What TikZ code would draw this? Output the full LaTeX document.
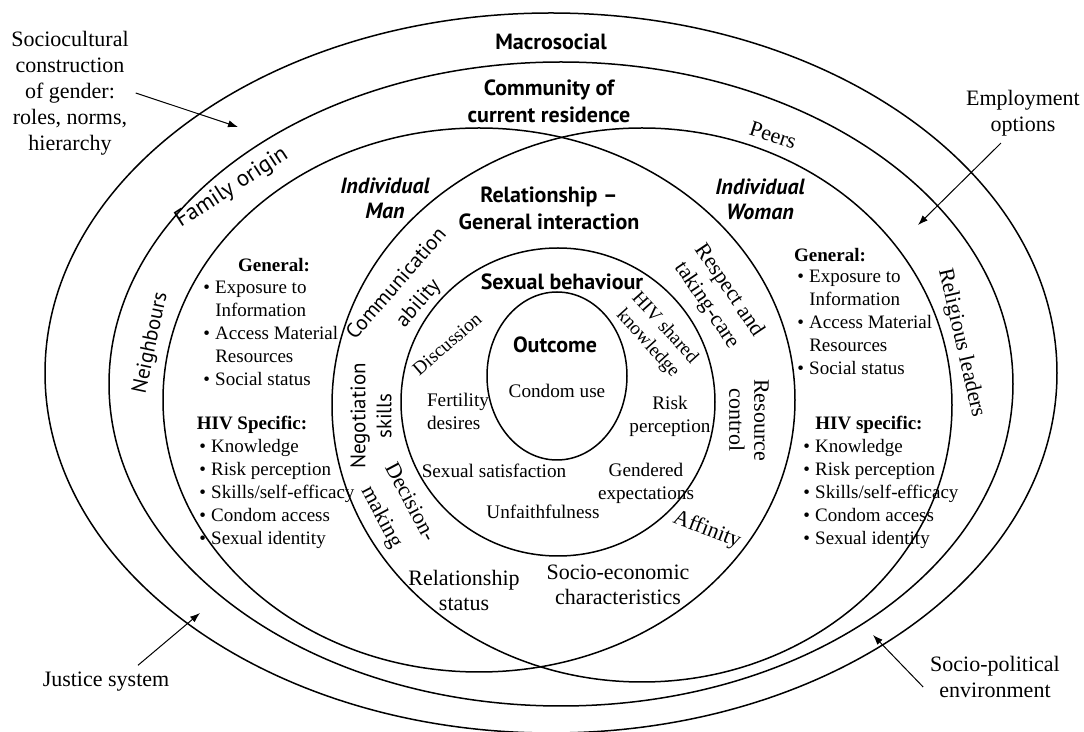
\documentclass[tikz,border=0pt]{standalone}
\usepackage{fontspec}
\setmainfont{Liberation Serif}
\newfontfamily\hsans{PT Sans}
\usetikzlibrary{arrows.meta,positioning}

\tikzset{
  ring/.style={line width=0.75pt},
  hdr/.style={font=\hsans\bfseries\fontsize{11}{13.5}\selectfont, align=center},
  indiv/.style={font=\hsans\bfseries\itshape\fontsize{11}{12.5}\selectfont, align=center},
  sml/.style={font=\fontsize{9.6}{11.5}\selectfont, align=center},
  mid/.style={font=\fontsize{11}{12.5}\selectfont, align=center},
  curv/.style={font=\hsans\fontsize{10.5}{13}\selectfont, align=center},
  note/.style={font=\fontsize{11}{13}\selectfont, align=center},
  lsthead/.style={font=\bfseries\fontsize{9.5}{11.5}\selectfont},
  lst/.style={font=\fontsize{9.5}{11.5}\selectfont, anchor=base west, inner sep=0pt},
  pointer/.style={-{Latex[length=5pt,width=3.6pt]}, line width=0.5pt},
}

\begin{document}
\begin{tikzpicture}[x=0.5pt, y=-0.5pt]
    \useasboundingbox (0,0) rectangle (1084,732);

    % Rings
    \draw[ring] (551,373) ellipse [x radius=506, y radius=360];
    \draw[ring] (561,384) ellipse [x radius=452, y radius=322];
    \draw[ring] (479,400) ellipse [x radius=316, y radius=272];
    \draw[ring] (642,405) ellipse [x radius=310, y radius=277];
    \draw[ring] (558,402) ellipse [x radius=157, y radius=154];
    \draw[ring] (557,376) ellipse [x radius=70, y radius=84];

    % Levels
    \node[hdr] (macro) at (551,42) {Macrosocial};
    \node[hdr] (commun) at (549,101) {Community of\\current residence};
    \node[hdr] (relat) at (549,208) {Relationship –\\General interaction};
    \node[hdr] (sexbeh) at (562,282) {Sexual behaviour};
    \node[hdr] (outc) at (555,345) {Outcome};
    \node[indiv] (man) at (385,198) {Individual\\Man};
    \node[indiv] (woman) at (760,199) {Individual\\Woman};

    % Community ring
    \node[curv, rotate=33, font=\hsans\fontsize{11.5}{14}\selectfont] (famorig) at (232,188) {Family origin};
    \node[curv, rotate=78] (neigh) at (151,343) {Neighbours};
    \node[note, rotate=-18] (peers) at (773,135) {Peers};
    \node[note, rotate=-77] (relig) at (961,343) {Religious leaders};

    % Relationship lens
    \node[curv, rotate=49, font=\hsans\fontsize{10.5}{14.5}\selectfont] (commab) at (408,294) {Communication\\ability};
    \node[curv, rotate=90] (negot) at (371,416) {Negotiation\\skills};
    \node[mid, rotate=-62, font=\fontsize{11}{16}\selectfont] (decis) at (395,510) {Decision-\\making};
    \node[mid, rotate=-56, font=\fontsize{11}{13.5}\selectfont] (respect) at (718,298) {Respect and\\taking-care};
    \node[mid, rotate=-90] (resctl) at (749,420) {Resource\\control};
    \node[mid, rotate=-21] (affin) at (707,530) {Affinity};
    \node[mid] (relstat) at (464,590) {Relationship\\status};
    \node[mid] (socec) at (618,585) {Socio-economic\\characteristics};

    % Sexual behaviour ring
    \node[sml, rotate=41] (discuss) at (447,344) {Discussion};
    \node[sml, rotate=-48] (hivsh) at (656,336) {HIV shared\\knowledge};
    \node[sml, align=left, anchor=west] (fert) at (420,411) {Fertility\\desires};
    \node[sml] (riskp) at (670,416) {Risk\\perception};
    \node[sml] (sexsat) at (494,471) {Sexual satisfaction};
    \node[sml] (gender) at (646,483) {Gendered\\expectations};
    \node[sml] (unfaith) at (543,512) {Unfaithfulness};
    \node[sml] (condom) at (557,391) {Condom use};

    % Individual man
    \node[lsthead] (mgenh) at (274,265) {General:};
    \node[lst] (mgen) at (203,294) {\begin{tabular}[t]{@{}l@{\hspace{2.6pt}}l@{}}
      • & Exposure to\\ & Information\\ • & Access Material\\ & Resources\\ • & Social status\end{tabular}};
    \node[lsthead] (mhivh) at (252,425) {HIV Specific:};
    \node[lst] (mhiv) at (199,453) {\begin{tabular}[t]{@{}l@{\hspace{2.6pt}}l@{}}
      • & Knowledge\\ • & Risk perception\\ • & Skills/self-efficacy\\ • & Condom access\\ • & Sexual identity\end{tabular}};

    % Individual woman
    \node[lsthead] (wgenh) at (830,255) {General:};
    \node[lst] (wgen) at (797,283) {\begin{tabular}[t]{@{}l@{\hspace{2.6pt}}l@{}}
      • & Exposure to\\ & Information\\ • & Access Material\\ & Resources\\ • & Social status\end{tabular}};
    \node[lsthead] (whivh) at (869,425) {HIV specific:};
    \node[lst] (whiv) at (803,453) {\begin{tabular}[t]{@{}l@{\hspace{2.6pt}}l@{}}
      • & Knowledge\\ • & Risk perception\\ • & Skills/self-efficacy\\ • & Condom access\\ • & Sexual identity\end{tabular}};

    % Outside influences
    \node[note] (socio) at (70,93) {Sociocultural\\construction\\of gender:\\roles, norms,\\hierarchy};
    \node[note] (employ) at (1023,113) {Employment\\options};
    \node[note] (justice) at (106,682) {Justice system};
    \node[note] (socpol) at (995,677) {Socio-political\\environment};

    \coordinate (gendtip) at (238,127);
    \coordinate (emptip) at (918,225);
    \coordinate (justip) at (200,613);
    \coordinate (poltip) at (873,635);

    \draw[pointer] (socio.east) -- (gendtip);
    \draw[pointer] ([xshift=-11pt]employ.south) -- (emptip);
    \draw[pointer] ([xshift=16pt]justice.north) -- (justip);
    \draw[pointer] ([yshift=-5pt]socpol.west) -- (poltip);
\end{tikzpicture}
\end{document}
